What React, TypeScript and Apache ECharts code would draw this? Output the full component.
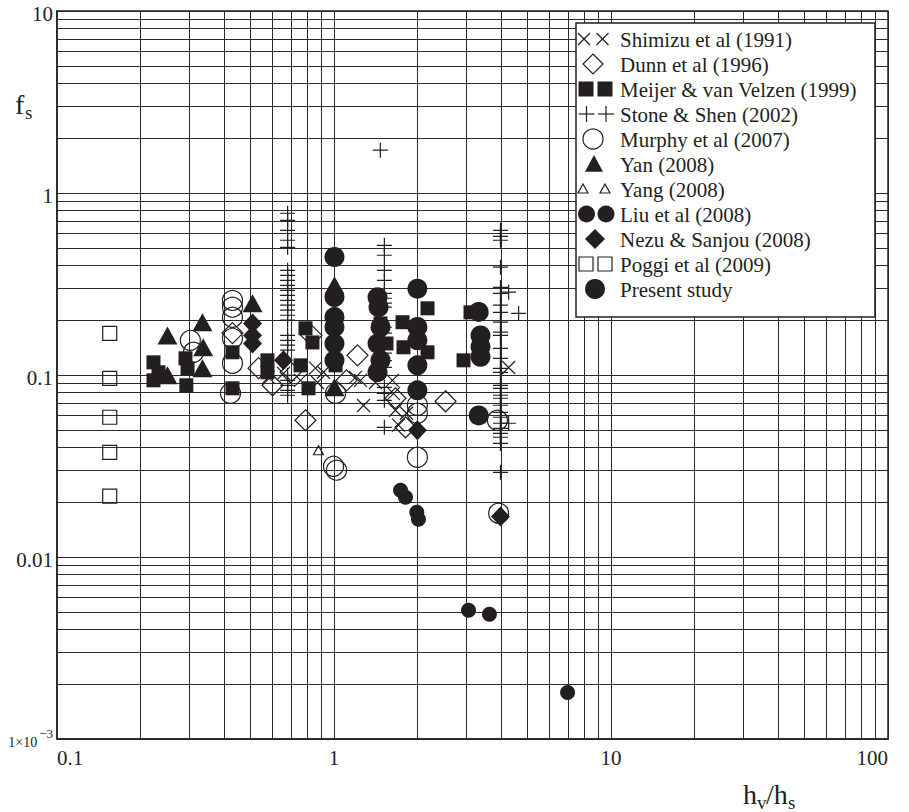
import React, { useEffect, useRef } from 'react';
import * as echarts from 'echarts';

const FONT = 'Liberation Serif, Times New Roman, serif';
const INK = '#231f20';

// ---- axes ----
const X_MIN = 0.1;
const X_MAX = 100;
const Y_MIN = 0.001;
const Y_MAX = 10;
const xDecades = [0.1, 1, 10];
const yDecades = [0.001, 0.01, 0.1, 1];
const gridMultipliers = [1, 2, 3, 4, 5, 6, 7, 8, 9];
const xTickLabels = ['0.1', '1', '10', '100'];
const yTickLabels = ['1×10−3', '0.01', '0.1', '1', '10'];

// ---- data: [h_v/h_s, f_s] ----
const shimizu = [
  [0.58, 0.097], [0.657, 0.102], [0.757, 0.0935], [0.857, 0.109], [0.872, 0.091], [0.916, 0.1035],
  [1.196, 0.097], [1.246, 0.0935], [1.278, 0.068], [1.412, 0.091], [1.625, 0.0935], [1.64, 0.079],
  [1.667, 0.064], [1.71, 0.053], [1.827, 0.0616], [4.27, 0.11],
];
const dunn = [
  [0.43, 0.17], [0.534, 0.109], [0.6, 0.0878], [0.697, 0.1035], [0.829, 0.165], [0.789, 0.0564],
  [1.11, 0.0935], [1.216, 0.1283], [1.667, 0.0745], [1.812, 0.0516], [2.527, 0.0717],
];
const meijer = [
  [0.223, 0.1174], [0.223, 0.0935], [0.2325, 0.1035], [0.291, 0.1235], [0.296, 0.1088], [0.293, 0.0878],
  [0.43, 0.1333], [0.43, 0.0845], [0.575, 0.1204], [0.575, 0.1035], [0.757, 0.113], [0.789, 0.1805],
  [0.836, 0.151], [0.809, 0.0845], [1.013, 0.113], [1.472, 0.192], [1.547, 0.149], [1.768, 0.195],
  [1.782, 0.142], [2.176, 0.2325], [2.176, 0.1333], [2.935, 0.1204], [3.11, 0.221],
];
const stone = [
  [0.68, 0.774], [0.68, 0.708], [0.68, 0.624], [0.68, 0.55], [0.68, 0.503], [0.68, 0.376], [0.68, 0.353],
  [0.68, 0.331], [0.68, 0.311], [0.68, 0.292], [0.68, 0.274], [0.68, 0.257], [0.68, 0.242], [0.68, 0.227],
  [0.68, 0.213], [0.68, 0.2], [0.68, 0.165], [0.68, 0.155], [0.68, 0.146], [0.68, 0.137], [0.68, 0.0996],
  [0.68, 0.0935], [0.68, 0.0878], [0.68, 0.0824], [0.68, 0.0774],
  [1.52, 0.516], [1.52, 0.455], [1.52, 0.376], [1.52, 0.331], [1.52, 0.281], [1.52, 0.264], [1.52, 0.248],
  [1.52, 0.236], [1.52, 0.183], [1.52, 0.17], [1.52, 0.155], [1.52, 0.132], [1.52, 0.12], [1.52, 0.11],
  [1.52, 0.0856], [1.52, 0.0793], [1.52, 0.0726], [1.52, 0.0516], [1.47, 1.72],
  [3.99, 0.624], [3.99, 0.578], [3.99, 0.55], [3.99, 0.391], [3.99, 0.303], [3.99, 0.281], [3.99, 0.242],
  [3.99, 0.221], [3.99, 0.195], [3.99, 0.172], [3.99, 0.165], [3.99, 0.14], [3.99, 0.1235], [3.99, 0.1088],
  [3.99, 0.1035], [3.99, 0.0878], [3.99, 0.0845], [3.99, 0.0774], [3.99, 0.0745], [3.99, 0.0682],
  [3.99, 0.0624], [3.99, 0.0586], [3.99, 0.0543], [3.99, 0.0509], [3.99, 0.0478], [3.99, 0.0455],
  [3.99, 0.0421], [3.99, 0.0292], [4.27, 0.285], [4.64, 0.218], [4.27, 0.0543],
];
const murphy = [
  [0.303, 0.155], [0.311, 0.1333], [0.43, 0.257], [0.43, 0.236], [0.43, 0.2075], [0.43, 0.159],
  [0.43, 0.116], [0.423, 0.0793], [1.013, 0.0793], [0.996, 0.0315], [1.021, 0.03], [2.0, 0.0682],
  [2.0, 0.0616], [2.0, 0.0353], [3.89, 0.0564], [3.93, 0.0174],
];
const yan = [
  [0.2505, 0.165], [0.2505, 0.0996], [0.335, 0.195], [0.337, 0.142], [0.335, 0.1088], [0.508, 0.248],
  [1.004, 0.311], [1.004, 0.0856],
];
const yang = [[0.879, 0.0386]];
const liu = [
  [1.739, 0.0233], [1.812, 0.0213], [1.99, 0.0176], [2.018, 0.0161], [3.06, 0.0051], [3.64, 0.00484],
  [6.97, 0.0018],
];
const nezu = [
  [0.508, 0.192], [0.508, 0.165], [0.508, 0.149], [0.657, 0.1204], [2.0, 0.0497], [3.99, 0.0167],
];
const poggi = [[0.155, 0.1695], [0.155, 0.0959], [0.155, 0.0586], [0.155, 0.0376], [0.155, 0.0216]];
const present = [
  [1.004, 0.445], [1.004, 0.268], [1.004, 0.208], [1.004, 0.1835], [1.004, 0.1488], [1.004, 0.1204],
  [1.436, 0.267], [1.448, 0.236], [1.472, 0.1835], [1.436, 0.1488], [1.472, 0.1204], [1.436, 0.1036],
  [2.0, 0.298], [2.0, 0.1835], [2.0, 0.155], [2.0, 0.113], [2.0, 0.0824],
  [3.33, 0.222], [3.38, 0.165], [3.38, 0.143], [3.38, 0.126], [3.33, 0.06],
];

const seriesNames = [
  'Shimizu et al (1991)', 'Dunn et al (1996)', 'Meijer & van Velzen (1999)', 'Stone & Shen (2002)',
  'Murphy et al (2007)', 'Yan (2008)', 'Yang (2008)', 'Liu et al (2008)', 'Nezu & Sanjou (2008)',
  'Poggi et al (2009)', 'Present study',
];

const CROSS = 'path://M0,0L10,10M10,0L0,10';
const PLUS = 'path://M5,0L5,10M0,5L10,5';
const CLEAR = 'rgba(0,0,0,0)';

const filled = { color: INK, borderWidth: 0 };
const open = { color: CLEAR, borderColor: INK, borderWidth: 1.2 };
const stroked = { color: INK, borderColor: INK, borderWidth: 1.2 };

const seriesDefs: any[] = [
  { name: seriesNames[0], data: shimizu, symbol: CROSS, symbolSize: 13, itemStyle: stroked },
  { name: seriesNames[1], data: dunn, symbol: 'diamond', symbolSize: [21, 21], itemStyle: open },
  { name: seriesNames[2], data: meijer, symbol: 'rect', symbolSize: 14, itemStyle: filled },
  { name: seriesNames[3], data: stone, symbol: PLUS, symbolSize: 15, itemStyle: stroked },
  { name: seriesNames[4], data: murphy, symbol: 'circle', symbolSize: 20, itemStyle: open },
  { name: seriesNames[5], data: yan, symbol: 'triangle', symbolSize: [20, 18], itemStyle: filled },
  { name: seriesNames[6], data: yang, symbol: 'triangle', symbolSize: [10, 9], itemStyle: open },
  { name: seriesNames[7], data: liu, symbol: 'circle', symbolSize: 15, itemStyle: filled },
  { name: seriesNames[8], data: nezu, symbol: 'diamond', symbolSize: [19, 20], itemStyle: filled },
  { name: seriesNames[9], data: poggi, symbol: 'rect', symbolSize: 14, itemStyle: open },
  { name: seriesNames[10], data: present, symbol: 'circle', symbolSize: 20, itemStyle: filled },
];

// ---- legend drawing (graphic) ----
const LEG = { x: 576, y: 23, w: 299, h: 294, textX: 620, row0: 39, rowGap: 25 };
const legendGlyphs: { kind: string; centers: number[]; size: number }[] = [
  { kind: 'cross', centers: [584, 602.5], size: 12 },
  { kind: 'diamondOpen', centers: [593], size: 20 },
  { kind: 'square', centers: [586, 605], size: 15 },
  { kind: 'plus', centers: [586.5, 606], size: 16 },
  { kind: 'circleOpen', centers: [593], size: 20 },
  { kind: 'triangle', centers: [594], size: 18 },
  { kind: 'triangleOpen', centers: [583, 605], size: 10 },
  { kind: 'dot', centers: [586.5, 606], size: 17 },
  { kind: 'diamond', centers: [595], size: 20 },
  { kind: 'squareOpen', centers: [586, 605], size: 14 },
  { kind: 'dot', centers: [595], size: 20 },
];

function glyph(kind: string, cx: number, cy: number, s: number): any[] {
  const h = s / 2;
  const z = 102;
  const st = { stroke: INK, lineWidth: 1.2, fill: 'none' };
  const fl = { fill: INK };
  switch (kind) {
    case 'cross':
      return [
        { type: 'line', z, shape: { x1: cx - h, y1: cy - h, x2: cx + h, y2: cy + h }, style: { stroke: INK, lineWidth: 1.2 } },
        { type: 'line', z, shape: { x1: cx - h, y1: cy + h, x2: cx + h, y2: cy - h }, style: { stroke: INK, lineWidth: 1.2 } },
      ];
    case 'plus':
      return [
        { type: 'line', z, shape: { x1: cx - h, y1: cy, x2: cx + h, y2: cy }, style: { stroke: INK, lineWidth: 1.2 } },
        { type: 'line', z, shape: { x1: cx, y1: cy - h, x2: cx, y2: cy + h }, style: { stroke: INK, lineWidth: 1.2 } },
      ];
    case 'diamondOpen':
      return [{ type: 'polygon', z, shape: { points: [[cx, cy - h], [cx + h, cy], [cx, cy + h], [cx - h, cy]] }, style: st }];
    case 'diamond':
      return [{ type: 'polygon', z, shape: { points: [[cx, cy - h], [cx + h, cy], [cx, cy + h], [cx - h, cy]] }, style: fl }];
    case 'square':
      return [{ type: 'rect', z, shape: { x: cx - h, y: cy - h, width: s, height: s }, style: fl }];
    case 'squareOpen':
      return [{ type: 'rect', z, shape: { x: cx - h, y: cy - h, width: s, height: s }, style: st }];
    case 'circleOpen':
      return [{ type: 'circle', z, shape: { cx, cy, r: h }, style: st }];
    case 'dot':
      return [{ type: 'circle', z, shape: { cx, cy, r: h }, style: fl }];
    case 'triangle':
      return [{ type: 'polygon', z, shape: { points: [[cx, cy - h], [cx + h, cy + h * 0.85], [cx - h, cy + h * 0.85]] }, style: fl }];
    case 'triangleOpen':
      return [{ type: 'polygon', z, shape: { points: [[cx, cy - h], [cx + h, cy + h * 0.8], [cx - h, cy + h * 0.8]] }, style: st }];
    default:
      return [];
  }
}

function buildLegend(): any[] {
  const els: any[] = [
    {
      type: 'rect', z: 100,
      shape: { x: LEG.x, y: LEG.y, width: LEG.w, height: LEG.h },
      style: { fill: '#ffffff', stroke: INK, lineWidth: 1.5 },
    },
  ];
  seriesNames.forEach((name, i) => {
    const cy = LEG.row0 + LEG.rowGap * i;
    const g = legendGlyphs[i];
    g.centers.forEach((cx) => els.push(...glyph(g.kind, cx, cy, g.size)));
    els.push({
      type: 'text', z: 102, x: LEG.textX, y: cy + 1,
      style: { text: name, fontSize: 21, fontFamily: FONT, fill: INK, verticalAlign: 'middle', align: 'left' },
    });
  });
  return els;
}

function buildTitles(): any[] {
  const t = (text: string, x: number, y: number, size: number) => ({
    type: 'text', z: 102, x, y,
    style: { text, fontSize: size, fontFamily: FONT, fill: INK, verticalAlign: 'middle', align: 'left' },
  });
  return [
    t('f', 15, 104, 28),
    t('s', 25, 112, 19),
    t('h', 743, 794, 28),
    t('v', 757, 802, 19),
    t('/h', 766, 794, 28),
    t('s', 788, 802, 19),
  ];
}

const xGrid = xDecades.flatMap((d) => gridMultipliers.map((m) => d * m)).concat([X_MAX]);
const yGrid = yDecades.flatMap((d) => gridMultipliers.map((m) => d * m)).concat([Y_MAX]);

const option: any = {
  animation: false,
  backgroundColor: '#ffffff',
  grid: {
    left: 57, top: 11, right: 21, bottom: 73,
    show: true, borderColor: INK, borderWidth: 1.5, backgroundColor: 'transparent',
    containLabel: false, outerBoundsMode: 'none',
  },
  xAxis: {
    type: 'log', logBase: 10, min: X_MIN, max: X_MAX,
    axisLine: { show: true, lineStyle: { color: INK, width: 1.5 } },
    axisTick: { show: false },
    splitLine: { show: false },
    minorTick: { show: false },
    axisLabel: {
      fontFamily: FONT, fontSize: 21, color: INK, margin: 8,
      alignMinLabel: 'left', alignMaxLabel: 'right',
      formatter: (v: number) => xTickLabels[Math.round(Math.log10(v)) + 1],
    },
  },
  yAxis: {
    type: 'log', logBase: 10, min: Y_MIN, max: Y_MAX,
    axisLine: { show: true, lineStyle: { color: INK, width: 1.5 } },
    axisTick: { show: false },
    splitLine: { show: false },
    minorTick: { show: false },
    axisLabel: {
      fontFamily: FONT, fontSize: 21, color: INK, margin: 4,
      padding: [6, 0, 0, 0],
      formatter: (v: number) => {
        const i = Math.round(Math.log10(v)) + 3;
        if (i === 0) return '{a|1×10}{b|−3}';
        return yTickLabels[i];
      },
      rich: {
        a: { fontFamily: FONT, fontSize: 14, color: INK },
        b: { fontFamily: FONT, fontSize: 13, color: INK, padding: [0, 0, 18, 2] },
      },
    },
  },
  graphic: { elements: [...buildLegend(), ...buildTitles()] },
  series: [
    {
      type: 'lines', coordinateSystem: 'cartesian2d', z: 1, silent: true, polyline: false,
      lineStyle: { color: '#2b2b2b', width: 1, opacity: 1 },
      data: [
        ...xGrid.map((v) => ({ coords: [[v, Y_MIN], [v, Y_MAX]] })),
        ...yGrid.map((v) => ({ coords: [[X_MIN, v], [X_MAX, v]] })),
      ],
    },
    ...seriesDefs.map((s) => ({
      type: 'scatter', z: 3, silent: true,
      name: s.name, data: s.data, symbol: s.symbol, symbolSize: s.symbolSize,
      itemStyle: { ...s.itemStyle, opacity: 1 },
      emphasis: { disabled: true },
    })),
  ],
};

export default function App() {
  const ref = useRef<HTMLDivElement>(null);
  useEffect(() => {
    const chart = echarts.init(ref.current as HTMLDivElement, null, { renderer: 'svg' });
    chart.setOption(option);
    return () => chart.dispose();
  }, []);
  return (
    <div
      ref={ref}
      style={{ position: 'fixed', left: 0, top: 0, width: 909, height: 812, background: '#ffffff' }}
    />
  );
}
